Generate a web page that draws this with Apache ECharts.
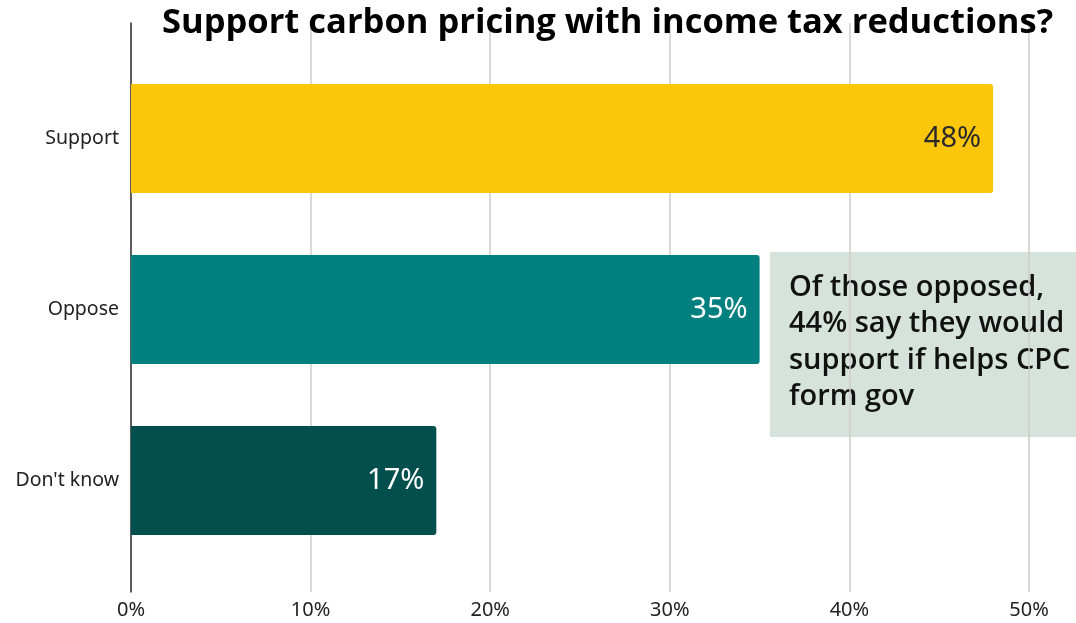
<!DOCTYPE html>
<html>
<head>
<meta charset="utf-8">
<script src="https://cdn.jsdelivr.net/npm/echarts@6/dist/echarts.min.js"></script>
<style>
  html, body { margin: 0; padding: 0; background: #fff; }
  #chart { width: 1076px; height: 623px; }
</style>
</head>
<body>
<div id="chart"></div>
<script>
// Survey responses (percent of respondents)
const categories = ['Support', 'Oppose', "Don't know"];
const values = [48, 35, 17];
const barColors = ['#FCC60B', '#01807F', '#034F4E'];
const labelColors = ['#2a2a2a', '#ffffff', '#ffffff'];
const xTicks = [0, 10, 20, 30, 40, 50];
const titleText = 'Support carbon pricing with income tax reductions?';
const noteLines = ['Of those opposed,', '44% say they would', 'support if helps CPC', 'form gov'];

const chart = echarts.init(document.getElementById('chart'), null, { renderer: 'canvas' });

const font = '"Noto Sans", "Open Sans", sans-serif';

const option = {
  animation: false,
  title: {
    text: titleText,
    left: 157,
    top: 1,
    textStyle: { fontFamily: '"Open Sans", sans-serif', fontWeight: 'bold', fontSize: 34.5, color: '#000' }
  },
  grid: [
    // frame grid: gridlines, x labels and the left axis line
    { left: 131, right: 47, top: 23, bottom: 31 },
    // bar grid
    { left: 131, right: 47, top: 53, bottom: 57 }
  ],
  xAxis: [
    {
      gridIndex: 0, type: 'value', min: xTicks[0], max: xTicks[xTicks.length - 1], interval: 10,
      axisLine: { show: false }, axisTick: { show: false },
      axisLabel: { formatter: '{value}%', fontFamily: font, fontSize: 20, color: '#222', margin: 8 },
      splitLine: { show: true, lineStyle: { color: '#cccccc', width: 1.5 } }
    },
    {
      gridIndex: 1, type: 'value', min: 0, max: 50, interval: 10,
      axisLine: { show: false }, axisTick: { show: false }, axisLabel: { show: false }, splitLine: { show: false }
    }
  ],
  yAxis: [
    {
      gridIndex: 0, type: 'value', min: 0, max: 1,
      axisLine: { show: true, lineStyle: { color: '#333', width: 1.5 } },
      axisTick: { show: false }, axisLabel: { show: false }, splitLine: { show: false }
    },
    {
      gridIndex: 1, type: 'category', data: categories, inverse: true,
      axisLine: { show: false }, axisTick: { show: false }, splitLine: { show: false },
      axisLabel: { fontFamily: font, fontSize: 19.5, color: '#222', margin: 12 }
    }
  ],
  series: [{
    type: 'bar',
    xAxisIndex: 1, yAxisIndex: 1,
    barWidth: 109,
    data: values.map((v, i) => ({
      value: v,
      itemStyle: { color: barColors[i], borderRadius: [0, 3, 3, 0] },
      label: { color: labelColors[i] }
    })),
    label: {
      show: true, position: 'insideRight', distance: 12,
      formatter: '{c}%', fontFamily: font, fontSize: 29
    }
  }],
  graphic: [
    {
      type: 'rect', left: 770, top: 252,
      shape: { width: 306, height: 185 },
      style: { fill: '#D5E3DC' }
    },
    {
      type: 'text', left: 789, top: 269,
      style: {
        text: noteLines.join('\n'),
        fontFamily: '"Open Sans", sans-serif', fontWeight: 600, fontSize: 29,
        lineHeight: 36.5, fill: '#111'
      }
    }
  ]
};

chart.setOption(option);
</script>
</body>
</html>
